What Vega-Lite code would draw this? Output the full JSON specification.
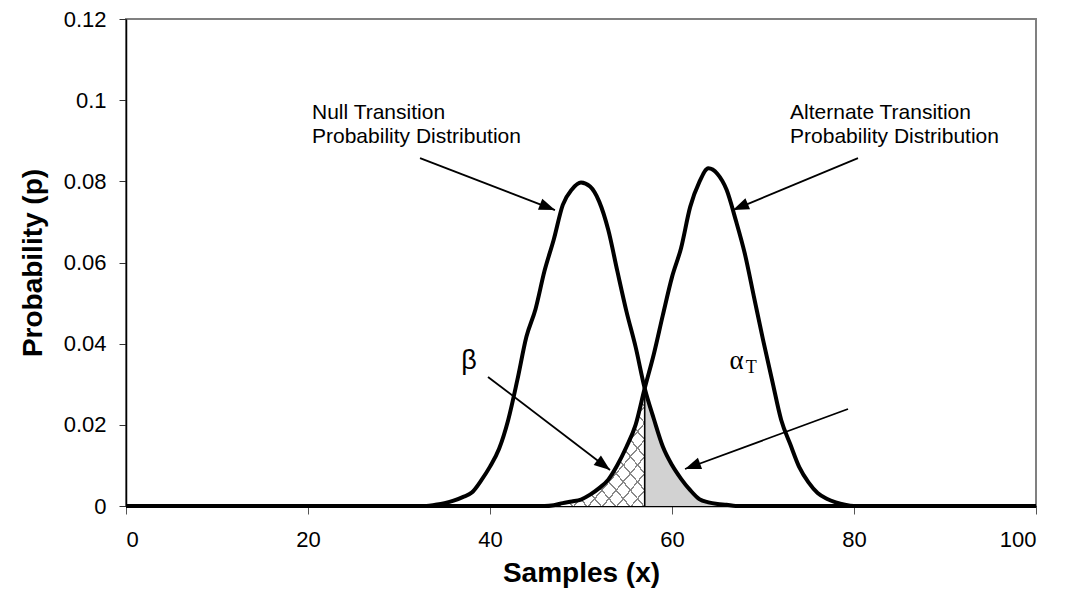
{
  "$schema": "https://vega.github.io/schema/vega-lite/v6.json",
  "width": 910,
  "height": 487,
  "autosize": {"type": "none"},
  "padding": {"left": 126, "top": 19, "right": 29, "bottom": 94},
  "background": "white",
  "config": {
    "font": "Liberation Sans",
    "view": {"stroke": "#808080", "strokeWidth": 2},
    "axis": {"grid": false, "labelFont": "Liberation Sans", "titleFont": "Liberation Sans", "labelColor": "#000", "titleColor": "#000"}
  },
  "datasets": {
    "curves": [
      {"s": "Null", "x": 0, "p": 0}, {"s": "Null", "x": 33, "p": 0}, {"s": "Null", "x": 34, "p": 0.0003}, {"s": "Null", "x": 35, "p": 0.0007},
      {"s": "Null", "x": 36, "p": 0.0013}, {"s": "Null", "x": 37, "p": 0.0022}, {"s": "Null", "x": 38, "p": 0.0033}, {"s": "Null", "x": 39, "p": 0.0062},
      {"s": "Null", "x": 40, "p": 0.0097}, {"s": "Null", "x": 41, "p": 0.0141}, {"s": "Null", "x": 42, "p": 0.0212}, {"s": "Null", "x": 43, "p": 0.031},
      {"s": "Null", "x": 44, "p": 0.0417}, {"s": "Null", "x": 45, "p": 0.0485}, {"s": "Null", "x": 46, "p": 0.058}, {"s": "Null", "x": 47, "p": 0.0656},
      {"s": "Null", "x": 48, "p": 0.0742}, {"s": "Null", "x": 49, "p": 0.078}, {"s": "Null", "x": 50, "p": 0.0797}, {"s": "Null", "x": 51, "p": 0.0787},
      {"s": "Null", "x": 52, "p": 0.075}, {"s": "Null", "x": 53, "p": 0.068}, {"s": "Null", "x": 54, "p": 0.0578}, {"s": "Null", "x": 55, "p": 0.0479},
      {"s": "Null", "x": 56, "p": 0.0392}, {"s": "Null", "x": 57, "p": 0.029}, {"s": "Null", "x": 58, "p": 0.0215}, {"s": "Null", "x": 59, "p": 0.0146},
      {"s": "Null", "x": 60, "p": 0.0101}, {"s": "Null", "x": 61, "p": 0.0067}, {"s": "Null", "x": 62, "p": 0.0039}, {"s": "Null", "x": 63, "p": 0.0017},
      {"s": "Null", "x": 64, "p": 0.0009}, {"s": "Null", "x": 65, "p": 0.0005}, {"s": "Null", "x": 66, "p": 0.0003}, {"s": "Null", "x": 67, "p": 0},
      {"s": "Null", "x": 100, "p": 0},
      {"s": "Alt", "x": 0, "p": 0}, {"s": "Alt", "x": 46, "p": 0}, {"s": "Alt", "x": 47, "p": 0.0002}, {"s": "Alt", "x": 48, "p": 0.0007},
      {"s": "Alt", "x": 49, "p": 0.0011}, {"s": "Alt", "x": 50, "p": 0.0016}, {"s": "Alt", "x": 51, "p": 0.0028}, {"s": "Alt", "x": 52, "p": 0.0044},
      {"s": "Alt", "x": 53, "p": 0.0065}, {"s": "Alt", "x": 54, "p": 0.0101}, {"s": "Alt", "x": 55, "p": 0.0146}, {"s": "Alt", "x": 56, "p": 0.02},
      {"s": "Alt", "x": 57, "p": 0.029}, {"s": "Alt", "x": 58, "p": 0.0374}, {"s": "Alt", "x": 59, "p": 0.0471}, {"s": "Alt", "x": 60, "p": 0.0564},
      {"s": "Alt", "x": 61, "p": 0.0636}, {"s": "Alt", "x": 62, "p": 0.0737}, {"s": "Alt", "x": 63, "p": 0.0798}, {"s": "Alt", "x": 64, "p": 0.0832},
      {"s": "Alt", "x": 65, "p": 0.0818}, {"s": "Alt", "x": 66, "p": 0.0779}, {"s": "Alt", "x": 67, "p": 0.0705}, {"s": "Alt", "x": 68, "p": 0.0622},
      {"s": "Alt", "x": 69, "p": 0.0516}, {"s": "Alt", "x": 70, "p": 0.041}, {"s": "Alt", "x": 71, "p": 0.031}, {"s": "Alt", "x": 72, "p": 0.0212},
      {"s": "Alt", "x": 73, "p": 0.0152}, {"s": "Alt", "x": 74, "p": 0.0095}, {"s": "Alt", "x": 75, "p": 0.0058}, {"s": "Alt", "x": 76, "p": 0.0032},
      {"s": "Alt", "x": 77, "p": 0.0018}, {"s": "Alt", "x": 78, "p": 0.0009}, {"s": "Alt", "x": 79, "p": 0.0003}, {"s": "Alt", "x": 80, "p": 0},
      {"s": "Alt", "x": 100, "p": 0}
    ],
    "arrows": [
      {"a": "null", "x": 32.31, "y": 0.0857, "x2": 47.14, "y2": 0.0729, "hx": 46.33, "hy": 0.07365, "ang": 111},
      {"a": "alt", "x": 80.44, "y": 0.0857, "x2": 66.7, "y2": 0.0729, "hx": 67.51, "hy": 0.0737, "ang": 247.4},
      {"a": "beta", "x": 39.78, "y": 0.0318, "x2": 53.19, "y2": 0.00887, "hx": 52.49, "hy": 0.01007, "ang": 127.3},
      {"a": "alpha", "x": 79.34, "y": 0.0239, "x2": 61.43, "y2": 0.00912, "hx": 62.25, "hy": 0.0098, "ang": 249.8}
    ],
    "labels": [
      {"x": 20.44, "y": 0.0954, "t": "Null Transition"},
      {"x": 20.44, "y": 0.0894, "t": "Probability Distribution"},
      {"x": 72.97, "y": 0.0954, "t": "Alternate Transition"},
      {"x": 72.97, "y": 0.0894, "t": "Probability Distribution"}
    ]
  },
  "layer": [
    {
      "data": {"name": "curves"},
      "transform": [{"filter": "datum.s == 'Alt' && datum.x >= 46 && datum.x <= 57"}],
      "mark": {"type": "area", "interpolate": "monotone",
        "fill": {"gradient": "linear", "x1": 0, "y1": 0, "x2": 1, "y2": 1, "stops": [
          {"offset": 0, "color": "#888888"}, {"offset": 0.009, "color": "#888888"}, {"offset": 0.009, "color": "#ffffff"},
          {"offset": 0.0714, "color": "#ffffff"}, {"offset": 0.0714, "color": "#888888"}, {"offset": 0.0804, "color": "#888888"}, {"offset": 0.0804, "color": "#ffffff"},
          {"offset": 0.1429, "color": "#ffffff"}, {"offset": 0.1429, "color": "#888888"}, {"offset": 0.1519, "color": "#888888"}, {"offset": 0.1519, "color": "#ffffff"},
          {"offset": 0.2143, "color": "#ffffff"}, {"offset": 0.2143, "color": "#888888"}, {"offset": 0.2233, "color": "#888888"}, {"offset": 0.2233, "color": "#ffffff"},
          {"offset": 0.2857, "color": "#ffffff"}, {"offset": 0.2857, "color": "#888888"}, {"offset": 0.2947, "color": "#888888"}, {"offset": 0.2947, "color": "#ffffff"},
          {"offset": 0.3571, "color": "#ffffff"}, {"offset": 0.3571, "color": "#888888"}, {"offset": 0.3661, "color": "#888888"}, {"offset": 0.3661, "color": "#ffffff"},
          {"offset": 0.4286, "color": "#ffffff"}, {"offset": 0.4286, "color": "#888888"}, {"offset": 0.4376, "color": "#888888"}, {"offset": 0.4376, "color": "#ffffff"},
          {"offset": 0.5, "color": "#ffffff"}, {"offset": 0.5, "color": "#888888"}, {"offset": 0.509, "color": "#888888"}, {"offset": 0.509, "color": "#ffffff"},
          {"offset": 0.5714, "color": "#ffffff"}, {"offset": 0.5714, "color": "#888888"}, {"offset": 0.5804, "color": "#888888"}, {"offset": 0.5804, "color": "#ffffff"},
          {"offset": 0.6429, "color": "#ffffff"}, {"offset": 0.6429, "color": "#888888"}, {"offset": 0.6519, "color": "#888888"}, {"offset": 0.6519, "color": "#ffffff"},
          {"offset": 0.7143, "color": "#ffffff"}, {"offset": 0.7143, "color": "#888888"}, {"offset": 0.7233, "color": "#888888"}, {"offset": 0.7233, "color": "#ffffff"},
          {"offset": 0.7857, "color": "#ffffff"}, {"offset": 0.7857, "color": "#888888"}, {"offset": 0.7947, "color": "#888888"}, {"offset": 0.7947, "color": "#ffffff"},
          {"offset": 0.8571, "color": "#ffffff"}, {"offset": 0.8571, "color": "#888888"}, {"offset": 0.8661, "color": "#888888"}, {"offset": 0.8661, "color": "#ffffff"},
          {"offset": 0.9286, "color": "#ffffff"}, {"offset": 0.9286, "color": "#888888"}, {"offset": 0.9376, "color": "#888888"}, {"offset": 0.9376, "color": "#ffffff"},
          {"offset": 1, "color": "#ffffff"}
        ]}},
      "encoding": {
        "x": {"field": "x", "type": "quantitative", "scale": {"domain": [0, 100]}},
        "y": {"field": "p", "type": "quantitative", "scale": {"domain": [0, 0.12]}}
      }
    },
    {
      "data": {"name": "curves"},
      "transform": [{"filter": "datum.s == 'Alt' && datum.x >= 46 && datum.x <= 57"}],
      "mark": {"type": "area", "interpolate": "monotone",
        "fill": {"gradient": "linear", "x1": 1, "y1": 0, "x2": 0, "y2": 1, "stops": [
          {"offset": 0, "color": "#888888"}, {"offset": 0.009, "color": "#888888"}, {"offset": 0.009, "color": "rgba(255,255,255,0)"},
          {"offset": 0.0714, "color": "rgba(255,255,255,0)"}, {"offset": 0.0714, "color": "#888888"}, {"offset": 0.0804, "color": "#888888"}, {"offset": 0.0804, "color": "rgba(255,255,255,0)"},
          {"offset": 0.1429, "color": "rgba(255,255,255,0)"}, {"offset": 0.1429, "color": "#888888"}, {"offset": 0.1519, "color": "#888888"}, {"offset": 0.1519, "color": "rgba(255,255,255,0)"},
          {"offset": 0.2143, "color": "rgba(255,255,255,0)"}, {"offset": 0.2143, "color": "#888888"}, {"offset": 0.2233, "color": "#888888"}, {"offset": 0.2233, "color": "rgba(255,255,255,0)"},
          {"offset": 0.2857, "color": "rgba(255,255,255,0)"}, {"offset": 0.2857, "color": "#888888"}, {"offset": 0.2947, "color": "#888888"}, {"offset": 0.2947, "color": "rgba(255,255,255,0)"},
          {"offset": 0.3571, "color": "rgba(255,255,255,0)"}, {"offset": 0.3571, "color": "#888888"}, {"offset": 0.3661, "color": "#888888"}, {"offset": 0.3661, "color": "rgba(255,255,255,0)"},
          {"offset": 0.4286, "color": "rgba(255,255,255,0)"}, {"offset": 0.4286, "color": "#888888"}, {"offset": 0.4376, "color": "#888888"}, {"offset": 0.4376, "color": "rgba(255,255,255,0)"},
          {"offset": 0.5, "color": "rgba(255,255,255,0)"}, {"offset": 0.5, "color": "#888888"}, {"offset": 0.509, "color": "#888888"}, {"offset": 0.509, "color": "rgba(255,255,255,0)"},
          {"offset": 0.5714, "color": "rgba(255,255,255,0)"}, {"offset": 0.5714, "color": "#888888"}, {"offset": 0.5804, "color": "#888888"}, {"offset": 0.5804, "color": "rgba(255,255,255,0)"},
          {"offset": 0.6429, "color": "rgba(255,255,255,0)"}, {"offset": 0.6429, "color": "#888888"}, {"offset": 0.6519, "color": "#888888"}, {"offset": 0.6519, "color": "rgba(255,255,255,0)"},
          {"offset": 0.7143, "color": "rgba(255,255,255,0)"}, {"offset": 0.7143, "color": "#888888"}, {"offset": 0.7233, "color": "#888888"}, {"offset": 0.7233, "color": "rgba(255,255,255,0)"},
          {"offset": 0.7857, "color": "rgba(255,255,255,0)"}, {"offset": 0.7857, "color": "#888888"}, {"offset": 0.7947, "color": "#888888"}, {"offset": 0.7947, "color": "rgba(255,255,255,0)"},
          {"offset": 0.8571, "color": "rgba(255,255,255,0)"}, {"offset": 0.8571, "color": "#888888"}, {"offset": 0.8661, "color": "#888888"}, {"offset": 0.8661, "color": "rgba(255,255,255,0)"},
          {"offset": 0.9286, "color": "rgba(255,255,255,0)"}, {"offset": 0.9286, "color": "#888888"}, {"offset": 0.9376, "color": "#888888"}, {"offset": 0.9376, "color": "rgba(255,255,255,0)"},
          {"offset": 1, "color": "rgba(255,255,255,0)"}
        ]}},
      "encoding": {
        "x": {"field": "x", "type": "quantitative"},
        "y": {"field": "p", "type": "quantitative"}
      }
    },
    {
      "data": {"name": "curves"},
      "transform": [{"filter": "datum.s == 'Null' && datum.x >= 57 && datum.x <= 67"}],
      "mark": {"type": "area", "interpolate": "monotone", "color": "#d2d2d2", "opacity": 1},
      "encoding": {
        "x": {"field": "x", "type": "quantitative"},
        "y": {"field": "p", "type": "quantitative"}
      }
    },
    {
      "data": {"values": [{"x": 57, "y": 0, "y2": 0.029}]},
      "mark": {"type": "rule", "color": "#000", "strokeWidth": 1.6},
      "encoding": {
        "x": {"field": "x", "type": "quantitative"},
        "y": {"field": "y", "type": "quantitative"},
        "y2": {"field": "y2"}
      }
    },
    {
      "data": {"name": "curves"},
      "mark": {"type": "line", "interpolate": "monotone", "color": "#000", "strokeWidth": 4, "strokeJoin": "round"},
      "encoding": {
        "x": {"field": "x", "type": "quantitative", "scale": {"domain": [0, 100]},
          "axis": {"values": [0, 20, 40, 60, 80, 100], "title": "Samples (x)", "titleFontSize": 28, "titleFontWeight": "bold", "labelFontSize": 22, "tickSize": 8, "tickColor": "#555", "domainColor": "#000", "domainWidth": 1.5, "labelPadding": 15, "titlePadding": 9}},
        "y": {"field": "p", "type": "quantitative", "scale": {"domain": [0, 0.12]},
          "axis": {"values": [0, 0.02, 0.04, 0.06, 0.08, 0.1, 0.12], "format": ".2~f", "title": "Probability (p)", "titleFontSize": 28, "titleFontWeight": "bold", "labelFontSize": 22, "tickSize": 7, "tickColor": "#333", "domainColor": "#000", "domainWidth": 1.5, "labelPadding": 13, "titlePadding": 16}},
        "detail": {"field": "s", "type": "nominal"}
      }
    },
    {
      "data": {"name": "arrows"},
      "mark": {"type": "rule", "color": "#000", "strokeWidth": 1.8},
      "encoding": {
        "x": {"field": "x", "type": "quantitative"},
        "y": {"field": "y", "type": "quantitative"},
        "x2": {"field": "x2"},
        "y2": {"field": "y2"}
      }
    },
    {
      "data": {"name": "arrows"},
      "mark": {"type": "point", "shape": "M0,-1L-0.75,1L0.75,1Z", "filled": true, "color": "#000", "size": 256, "opacity": 1, "strokeWidth": 0},
      "encoding": {
        "x": {"field": "hx", "type": "quantitative"},
        "y": {"field": "hy", "type": "quantitative"},
        "angle": {"field": "ang", "type": "quantitative", "scale": null}
      }
    },
    {
      "data": {"name": "labels"},
      "mark": {"type": "text", "align": "left", "baseline": "alphabetic", "fontSize": 21, "font": "Liberation Sans", "color": "#000"},
      "encoding": {
        "x": {"field": "x", "type": "quantitative"},
        "y": {"field": "y", "type": "quantitative"},
        "text": {"field": "t", "type": "nominal"}
      }
    },
    {
      "data": {"values": [{"x": 37.69, "y": 0.0357, "t": "β"}]},
      "mark": {"type": "text", "align": "center", "baseline": "middle", "fontSize": 27, "font": "Liberation Sans", "color": "#000"},
      "encoding": {
        "x": {"field": "x", "type": "quantitative"},
        "y": {"field": "y", "type": "quantitative"},
        "text": {"field": "t", "type": "nominal"}
      }
    },
    {
      "data": {"values": [{"x": 67.1, "y": 0.0357, "t": "α"}]},
      "mark": {"type": "text", "align": "center", "baseline": "middle", "fontSize": 27, "font": "Liberation Serif", "color": "#000"},
      "encoding": {
        "x": {"field": "x", "type": "quantitative"},
        "y": {"field": "y", "type": "quantitative"},
        "text": {"field": "t", "type": "nominal"}
      }
    },
    {
      "data": {"values": [{"x": 68.7, "y": 0.0341, "t": "T"}]},
      "mark": {"type": "text", "align": "center", "baseline": "middle", "fontSize": 18, "font": "Liberation Serif", "color": "#000"},
      "encoding": {
        "x": {"field": "x", "type": "quantitative"},
        "y": {"field": "y", "type": "quantitative"},
        "text": {"field": "t", "type": "nominal"}
      }
    }
  ]
}
